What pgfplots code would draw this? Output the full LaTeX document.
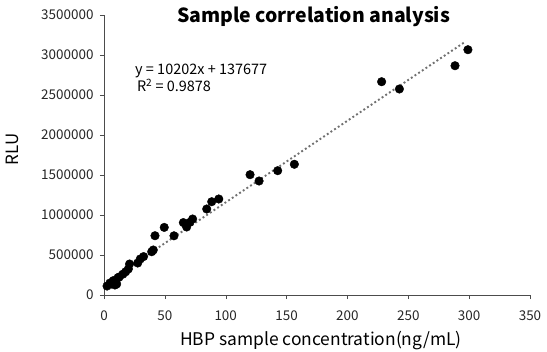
\documentclass[border=0pt]{standalone}
\usepackage{pgfplots}
\pgfplotsset{compat=1.18}
\usepackage{fontspec}
\setmainfont{Noto Sans CJK SC}
\begin{document}
\begin{tikzpicture}
\begin{axis}[
  scale only axis, width=426bp, height=280bp,
  xmin=0, xmax=350, ymin=0, ymax=3500000,
  axis lines=left, axis line style={-, black!70},
  tick align=outside, major tick length=4bp,
  tick style={black!70},
  xtick={0,50,...,350}, ytick={0,500000,...,3500000},
  scaled y ticks=false,
  yticklabel style={/pgf/number format/fixed, /pgf/number format/1000 sep={}, xshift=-3bp},
  xticklabel style={yshift=-8bp},
  /pgf/number format/assume math mode=true,
  ticklabel style={font=\fontsize{13.5}{15}\selectfont, text=black!85},
  xlabel={HBP sample concentration(ng/mL)},
  ylabel={RLU},
  xlabel style={font=\fontsize{17.5}{20}\selectfont, at={(axis description cs:0.509,-0.181)}, anchor=base},
  ylabel style={font=\fontsize{17}{20}\selectfont, at={(axis description cs:-0.2012,0.52)}, anchor=base},
  title={Sample correlation analysis},
  title style={font=\bfseries\fontsize{19.5}{22}\selectfont, at={(axis description cs:0.492,1)}, anchor=base, yshift=-13bp},
  clip=false,
]
\addplot[color={rgb,255:red,112;green,112;blue,112}, dash pattern=on 1.9bp off 2.5bp, line width=1.9bp] coordinates {(0,137677) (297,3167671)};
\addplot[only marks, mark=*, mark size=4.3bp, black] coordinates {
(299,3066000) (288.4,2866000) (228.1,2666000) (242.7,2575000)
(120.0,1504000) (127.4,1425000) (142.7,1554000) (156.4,1634000)
(84.4,1075000) (88.5,1166000) (94.3,1200000)
(65.2,905000) (72.8,950000) (67.9,850000) (70.6,909000)
(57.5,740000) (49.5,845000) (41.9,741000)
(40.5,562500) (39.2,541000) (32.5,480000) (29.8,450000) (27.7,400000)
(21.0,387500) (20,325000) (17.8,290000) (15.5,260000) (12.5,225000) (11.5,216000)
(9,125000) (7.7,180000) (4.9,150000) (2.5,112000) (6.3,137500) (10.4,137500)
};
\node[anchor=base west, font=\fontsize{14.5}{16}\selectfont, align=left, inner sep=0pt] at (axis cs:25.5,2760000) {y = 10202x + 137677};
\node[anchor=base west, font=\fontsize{14.5}{16}\selectfont, align=left, inner sep=0pt] at (axis cs:27,2543000) {R\textsuperscript{2} = 0.9878};
\end{axis}
\pgfresetboundingbox
\path ([xshift=-104bp,yshift=-57bp]current axis.south west) rectangle ([xshift=17bp,yshift=15bp]current axis.north east);
\end{tikzpicture}
\end{document}
